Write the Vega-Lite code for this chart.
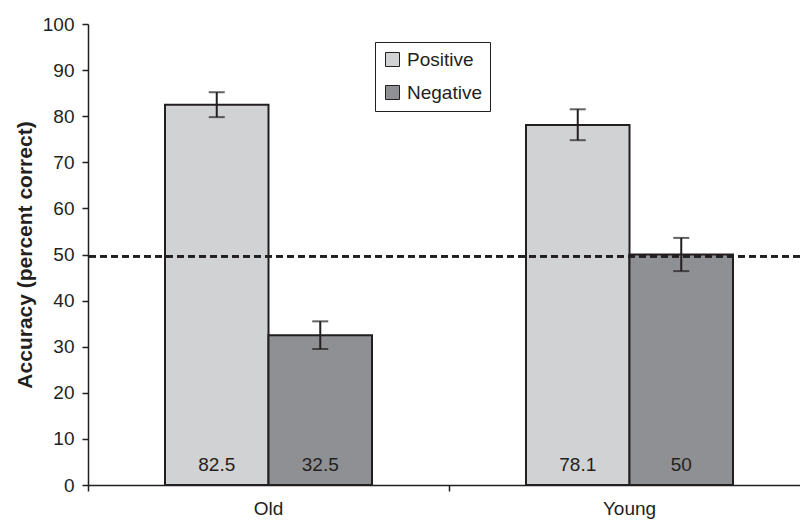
{
  "$schema": "https://vega.github.io/schema/vega-lite/v6.json",
  "width": 712,
  "height": 461,
  "autosize": {"type": "none"},
  "padding": {"left": 88, "top": 24, "right": 0, "bottom": 36},
  "background": "white",
  "data": {
    "values": [
      {"age": "Old", "valence": "Positive", "acc": 82.5, "lo": 79.8, "hi": 85.2, "label": "82.5"},
      {"age": "Old", "valence": "Negative", "acc": 32.5, "lo": 29.5, "hi": 35.5, "label": "32.5"},
      {"age": "Young", "valence": "Positive", "acc": 78.1, "lo": 74.8, "hi": 81.5, "label": "78.1"},
      {"age": "Young", "valence": "Negative", "acc": 50, "lo": 46.4, "hi": 53.6, "label": "50"}
    ]
  },
  "layer": [
    {
      "mark": {"type": "bar", "stroke": "#231f20", "strokeWidth": 2},
      "encoding": {
        "x": {
          "field": "age",
          "type": "nominal",
          "scale": {"range": [0, 722], "paddingInner": 0, "paddingOuter": 0},
          "axis": {
            "title": null,
            "bandPosition": 0,
            "labelAngle": 0,
            "tickSize": 6,
            "labelPadding": 8,
            "labelFlush": false,
            "labelBound": false
          }
        },
        "xOffset": {
          "field": "valence",
          "type": "nominal",
          "scale": {"domain": ["Positive", "Negative"], "paddingOuter": 0.744, "paddingInner": 0}
        },
        "y": {
          "field": "acc",
          "type": "quantitative",
          "scale": {"domain": [0, 100], "nice": false},
          "axis": {
            "title": "Accuracy (percent correct)",
            "values": [0, 10, 20, 30, 40, 50, 60, 70, 80, 90, 100],
            "grid": false,
            "tickSize": 6,
            "labelPadding": 8,
            "titlePadding": 7,
            "titleFontSize": 21,
            "titleFontWeight": "bold"
          }
        },
        "fill": {
          "field": "valence",
          "type": "nominal",
          "scale": {"domain": ["Positive", "Negative"], "range": ["#d1d2d4", "#8f9094"]},
          "legend": {
            "title": null,
            "orient": "none",
            "legendX": 287,
            "legendY": 18,
            "direction": "vertical",
            "symbolType": "square",
            "symbolSize": 196,
            "symbolStrokeColor": "#231f20",
            "symbolStrokeWidth": 1,
            "symbolOpacity": 1,
            "rowPadding": 13,
            "labelOffset": 5,
            "padding": 8
          }
        }
      }
    },
    {
      "mark": {"type": "rule", "stroke": "#231f20", "strokeWidth": 2.5, "strokeDash": [7, 4]},
      "encoding": {"y": {"datum": 49.6}}
    },
    {
      "mark": {"type": "rule", "stroke": "#231f20", "strokeWidth": 2},
      "encoding": {
        "x": {"field": "age", "type": "nominal"},
        "xOffset": {"field": "valence", "type": "nominal"},
        "y": {"field": "lo", "type": "quantitative"},
        "y2": {"field": "hi"}
      }
    },
    {
      "mark": {"type": "tick", "color": "#231f20", "size": 16, "thickness": 2},
      "encoding": {
        "x": {"field": "age", "type": "nominal"},
        "xOffset": {"field": "valence", "type": "nominal"},
        "y": {"field": "lo", "type": "quantitative"}
      }
    },
    {
      "mark": {"type": "tick", "color": "#231f20", "size": 16, "thickness": 2},
      "encoding": {
        "x": {"field": "age", "type": "nominal"},
        "xOffset": {"field": "valence", "type": "nominal"},
        "y": {"field": "hi", "type": "quantitative"}
      }
    },
    {
      "mark": {"type": "text", "baseline": "middle", "dy": -20, "fontSize": 19, "font": "Liberation Sans", "color": "#231f20"},
      "encoding": {
        "x": {"field": "age", "type": "nominal"},
        "xOffset": {"field": "valence", "type": "nominal"},
        "y": {"datum": 0},
        "text": {"field": "label", "type": "nominal"}
      }
    }
  ],
  "config": {
    "view": {"stroke": null},
    "font": "Liberation Sans",
    "axis": {
      "labelFont": "Liberation Sans",
      "labelFontSize": 19,
      "labelColor": "#231f20",
      "titleFont": "Liberation Sans",
      "titleFontSize": 19,
      "titleColor": "#231f20",
      "domainColor": "#231f20",
      "domainWidth": 1.5,
      "tickColor": "#231f20",
      "tickWidth": 1.5
    },
    "legend": {
      "labelFont": "Liberation Sans",
      "labelFontSize": 19,
      "labelColor": "#231f20",
      "strokeColor": "#231f20",
      "fillColor": "white"
    }
  }
}
